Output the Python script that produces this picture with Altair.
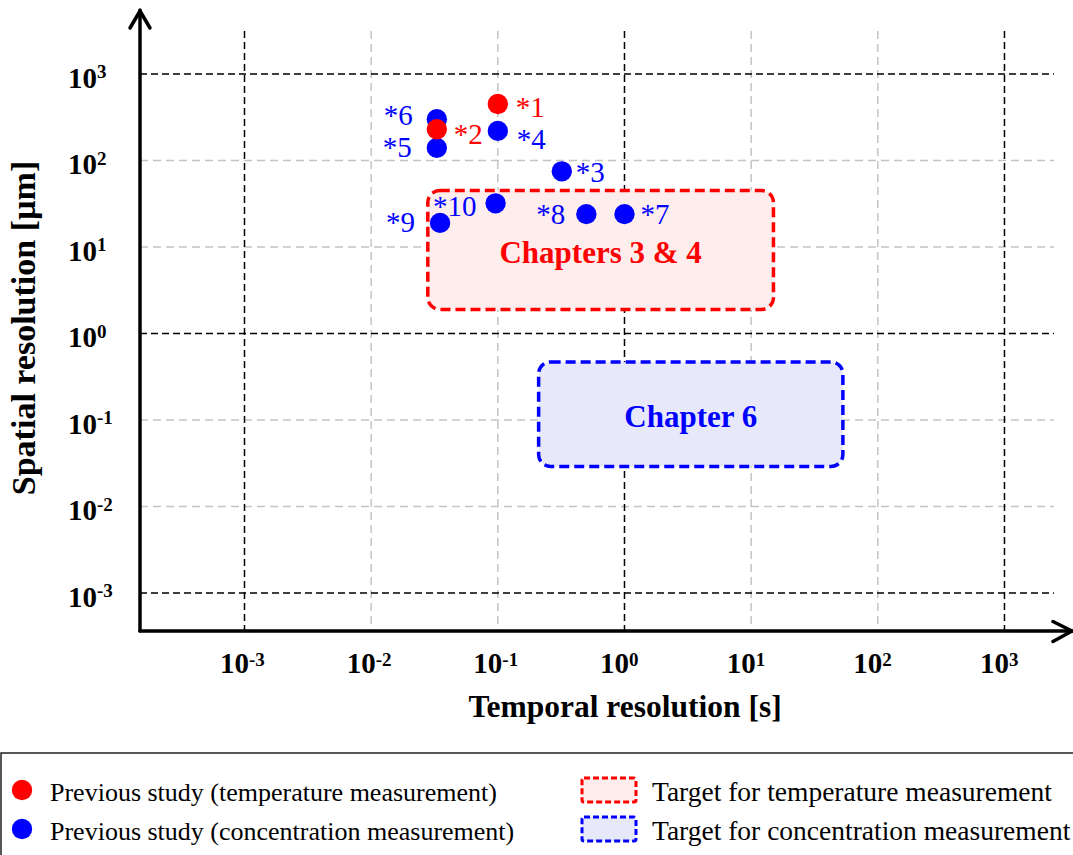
import altair as alt
import numpy as np
import pandas as pd

# Previous studies, temporal resolution [s] vs spatial resolution [µm]
temp_labels = ["*1", "*2"]
temp_time = [0.1, 0.033]
temp_space = [450, 230]

conc_labels = ["*3", "*4", "*5", "*6", "*7", "*8", "*9", "*10"]
conc_time = [0.32, 0.1, 0.033, 0.033, 1.0, 0.5, 0.035, 0.096]
conc_space = [75, 220, 140, 300, 24, 24, 19, 32]

# Target regions
target_names = ["Chapters 3 & 4", "Chapter 6"]
target_t1 = [0.028, 0.21]
target_t2 = [15, 53]
target_s1 = [1.9, 0.029]
target_s2 = [45, 0.47]

decades = [-3, -2, -1, 0, 1, 2, 3]

legend_points = ["Previous study (temperature measurement)",
                 "Previous study (concentration measurement)"]
legend_boxes = ["Target for temperature measurement",
                "Target for concentration measurement"]

# ---- styling / layout ----
RED, BLUE = "#ff0000", "#0000ff"
FILLS = ["#fdeded", "#e8e8fb"]
STROKES = [RED, BLUE]
SERIF = "Liberation Serif"
W, H = 933, 621
X_LOG = (-3.825, 3.541)
Y_LOG = (-3.439, 3.740)

xs = alt.Scale(type="log", domain=[10 ** X_LOG[0], 10 ** X_LOG[1]], nice=False)
ys = alt.Scale(type="log", domain=[10 ** Y_LOG[0], 10 ** Y_LOG[1]], nice=False)

# label placement next to each point: (align, dx, dy)
label_offsets = {
    "*1": ("left", 18, 13),
    "*2": ("left", 17, 15),
    "*3": ("left", 14, 11),
    "*4": ("left", 19, 18),
    "*5": ("right", -25, 9),
    "*6": ("right", -24, 6),
    "*7": ("left", 16, 10),
    "*8": ("right", -21, 10),
    "*9": ("right", -25, 9),
    "*10": ("right", -19, 13),
}

dec = pd.DataFrame({"k": decades})
dec["v"] = 10.0 ** dec["k"]
dec["exp"] = dec["k"].astype(str)
dec["major"] = dec["k"] % 3 == 0
one = pd.DataFrame({"i": [0]})

layers = []

# grid
for major, color, dash in [(False, "#c4c4c4", [8, 5]), (True, "#000000", [7, 4])]:
    sub = dec[dec["major"] == major]
    layers.append(alt.Chart(sub).mark_rule(color=color, strokeDash=dash, strokeWidth=1.5).encode(
        x=alt.X("v:Q", scale=xs, axis=None), y=alt.value(21), y2=alt.value(H)))
    layers.append(alt.Chart(sub).mark_rule(color=color, strokeDash=dash, strokeWidth=1.5).encode(
        y=alt.Y("v:Q", scale=ys, axis=None), x=alt.value(0), x2=alt.value(914)))

# target regions
targets = pd.DataFrame({"name": target_names, "t1": target_t1, "t2": target_t2,
                        "s1": target_s1, "s2": target_s2})
targets["tc"] = np.sqrt(targets["t1"] * targets["t2"])
targets["sc"] = np.sqrt(targets["s1"] * targets["s2"])
for i in range(len(targets)):
    row = targets.iloc[[i]]
    layers.append(alt.Chart(row).mark_rect(
        fill=FILLS[i], stroke=STROKES[i], strokeWidth=3.5, strokeDash=[10, 5],
        cornerRadius=12).encode(
        x=alt.X("t1:Q", scale=xs, axis=None), x2="t2:Q",
        y=alt.Y("s1:Q", scale=ys, axis=None), y2="s2:Q"))
    layers.append(alt.Chart(row).mark_text(
        font=SERIF, fontSize=31, fontWeight="bold", color=STROKES[i],
        baseline="middle", dy=4).encode(
        x=alt.X("tc:Q", scale=xs, axis=None), y=alt.Y("sc:Q", scale=ys, axis=None),
        text="name:N"))

# previous studies
conc = pd.DataFrame({"label": conc_labels, "t": conc_time, "s": conc_space})
temp = pd.DataFrame({"label": temp_labels, "t": temp_time, "s": temp_space})
for df, color in [(conc, BLUE), (temp, RED)]:
    layers.append(alt.Chart(df).mark_circle(size=415, color=color, opacity=1).encode(
        x=alt.X("t:Q", scale=xs, axis=None), y=alt.Y("s:Q", scale=ys, axis=None)))
for df, color in [(conc, BLUE), (temp, RED)]:
    for lab in df["label"]:
        align, dx, dy = label_offsets[lab]
        layers.append(alt.Chart(df[df["label"] == lab]).mark_text(
            font=SERIF, fontSize=29, color=color, align=align, dx=dx, dy=dy,
            baseline="alphabetic").encode(
            x=alt.X("t:Q", scale=xs, axis=None), y=alt.Y("s:Q", scale=ys, axis=None),
            text="label:N"))

# tick labels (10 with superscript exponent)
layers.append(alt.Chart(dec).mark_text(font=SERIF, fontSize=29, fontWeight="bold",
                                       align="right", dx=4.5, baseline="alphabetic").encode(
    x=alt.X("v:Q", scale=xs, axis=None), y=alt.value(663), text=alt.value("10")))
layers.append(alt.Chart(dec).mark_text(font=SERIF, fontSize=19, fontWeight="bold",
                                       align="left", dx=4.5, baseline="alphabetic").encode(
    x=alt.X("v:Q", scale=xs, axis=None), y=alt.value(656), text="exp:N"))
layers.append(alt.Chart(dec).mark_text(font=SERIF, fontSize=29, fontWeight="bold",
                                       align="right", dy=13.5, baseline="alphabetic").encode(
    y=alt.Y("v:Q", scale=ys, axis=None), x=alt.value(-43), text=alt.value("10")))
layers.append(alt.Chart(dec).mark_text(font=SERIF, fontSize=19, fontWeight="bold",
                                       align="left", dy=4, baseline="alphabetic").encode(
    y=alt.Y("v:Q", scale=ys, axis=None), x=alt.value(-43), text="exp:N"))

# axis titles
layers.append(alt.Chart(one).mark_text(font=SERIF, fontSize=31.5, fontWeight="bold",
                                       align="center", baseline="alphabetic").encode(
    x=alt.value(485), y=alt.value(706.5), text=alt.value("Temporal resolution [s]")))
layers.append(alt.Chart(one).mark_text(font=SERIF, fontSize=34, fontWeight="bold",
                                       align="center", baseline="alphabetic", angle=270).encode(
    x=alt.value(-105), y=alt.value(318), text=alt.value("Spatial resolution [µm]")))

# axis lines with open arrowheads
axis_segments = [
    (0, 0, 0, H),            # y axis
    (0, W - 1, H, H),        # x axis
    (-10, 0, 18, 1),         # y arrow, left arm
    (10, 0, 18, 1),          # y arrow, right arm
    (913, W - 1, 611.5, H),  # x arrow, upper arm
    (913, W - 1, 631.5, H),  # x arrow, lower arm
]
for xa, xb, ya, yb in axis_segments:
    layers.append(alt.Chart(one).mark_rule(color="black", strokeWidth=3.5,
                                           strokeCap="round").encode(
        x=alt.value(xa), x2=alt.value(xb), y=alt.value(ya), y2=alt.value(yb)))

# legend frame
layers.append(alt.Chart(one).mark_rect(fill="white", stroke="#222222",
                                       strokeWidth=1.5).encode(
    x=alt.value(-139), x2=alt.value(W + 20), y=alt.value(743), y2=alt.value(900)))

for i, (lab, color) in enumerate(zip(legend_points, [RED, BLUE])):
    yc = 780 + 39 * i
    layers.append(alt.Chart(one).mark_circle(size=415, color=color, opacity=1).encode(
        x=alt.value(-118), y=alt.value(yc)))
    layers.append(alt.Chart(one).mark_text(font=SERIF, fontSize=26, align="left",
                                           baseline="alphabetic").encode(
        x=alt.value(-90), y=alt.value(yc + 10.5), text=alt.value(lab)))

for i, lab in enumerate(legend_boxes):
    yt = 768 + 39 * i
    layers.append(alt.Chart(one).mark_rect(fill=FILLS[i], stroke=STROKES[i],
                                           strokeWidth=3, strokeDash=[6, 3],
                                           cornerRadius=2).encode(
        x=alt.value(442), x2=alt.value(496), y=alt.value(yt), y2=alt.value(yt + 24)))
    layers.append(alt.Chart(one).mark_text(font=SERIF, fontSize=27.5, align="left",
                                           baseline="alphabetic").encode(
        x=alt.value(512), y=alt.value(yt + 22.5), text=alt.value(lab)))

chart = alt.layer(*layers).properties(
    width=W, height=H,
    padding={"left": 140, "top": 10, "right": 0, "bottom": 224},
    autosize=alt.AutoSizeParams(type="none"),
    background="white",
).configure_view(stroke=None)

chart.save("out.html", embed_options={"renderer": "svg", "actions": False})
